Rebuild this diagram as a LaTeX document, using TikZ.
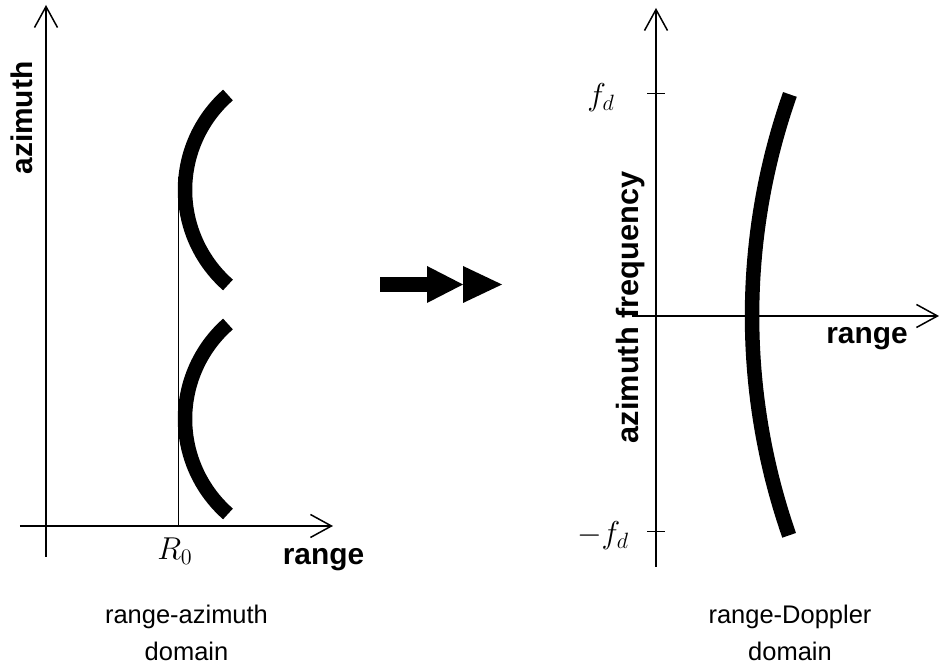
\documentclass[tikz,border=0pt]{standalone}
\usepackage{fix-cm}
\usepackage[no-math]{fontspec}
\setmainfont{Liberation Sans}
\usetikzlibrary{arrows.meta}

\begin{document}
\begin{tikzpicture}[
	axis/.style={line width=0.03cm, -{Straight Barb[length=0.42cm,width=0.46cm]}},
	echo/.style={line width=0.29cm},
	axislabel/.style={font=\fontsize{17}{20}\selectfont\bfseries},
	domainlabel/.style={font=\fontsize{14.5}{21}\selectfont, align=center},
	mathlabel/.style={font=\fontsize{18}{22}\selectfont}]
	\useasboundingbox (0,0) rectangle (18.82,13.32);
	
	% 左图：距离-方位域
	\draw[axis] (0.4,2.8) -- (6.66,2.8);     % 距离轴
	\draw[axis] (0.92,2.18) -- (0.92,13.22); % 方位轴
	\node[axislabel, rotate=90] (azl) at (0.44,10.96) {azimuth};
	\node[axislabel] (rgl) at (6.47,2.12) {range};
	\node[mathlabel] (rzero) at (3.5,2.3) {$R_0$};
	\draw[line width=0.02cm] (3.56,2.8) -- (3.56,9.78);
	% 两条回波轨迹
	\foreach \yc in {9.52,4.94}
		\draw[echo] (6.228,\yc) ++(131.3:2.528) arc[start angle=131.3, end angle=228.7, radius=2.528];
	
	% 中间箭头
	\fill (7.6,7.48) rectangle (8.54,7.78);
	\fill (8.54,8.0) -- (9.26,7.63) -- (8.54,7.26) -- cycle;
	\fill (9.26,8.0) -- (10.04,7.63) -- (9.26,7.26) -- cycle;
	
	% 右图：距离-多普勒域
	\draw[axis] (12.64,7.0) -- (18.78,7.0);    % 距离轴
	\draw[axis] (13.12,1.98) -- (13.12,13.16); % 方位频率轴
	\draw[line width=0.02cm] (12.94,11.45) -- (13.3,11.45); % f_d
	\draw[line width=0.02cm] (12.94,2.68) -- (13.3,2.68);   % -f_d
	\node[mathlabel] (fdp) at (12.02,11.36) {$f_d$};
	\node[mathlabel] (fdm) at (12.06,2.6) {$-f_d$};
	\node[axislabel, font=\fontsize{17.5}{20}\selectfont\bfseries, rotate=90] (azfr) at (12.62,7.17) {azimuth frequency};
	\node[axislabel] (rgr) at (17.34,6.54) {range};
	% 校正后的轨迹
	\draw[echo] (28.38,7) ++(160.6:13.34) arc[start angle=160.6, end angle=199.2, radius=13.34];
	
	% 下方标注
	\node[domainlabel] (rad) at (3.73,0.67) {range-azimuth\\domain};
	\node[domainlabel] (rdd) at (15.8,0.67) {range-Doppler\\domain};
\end{tikzpicture}
\end{document}
